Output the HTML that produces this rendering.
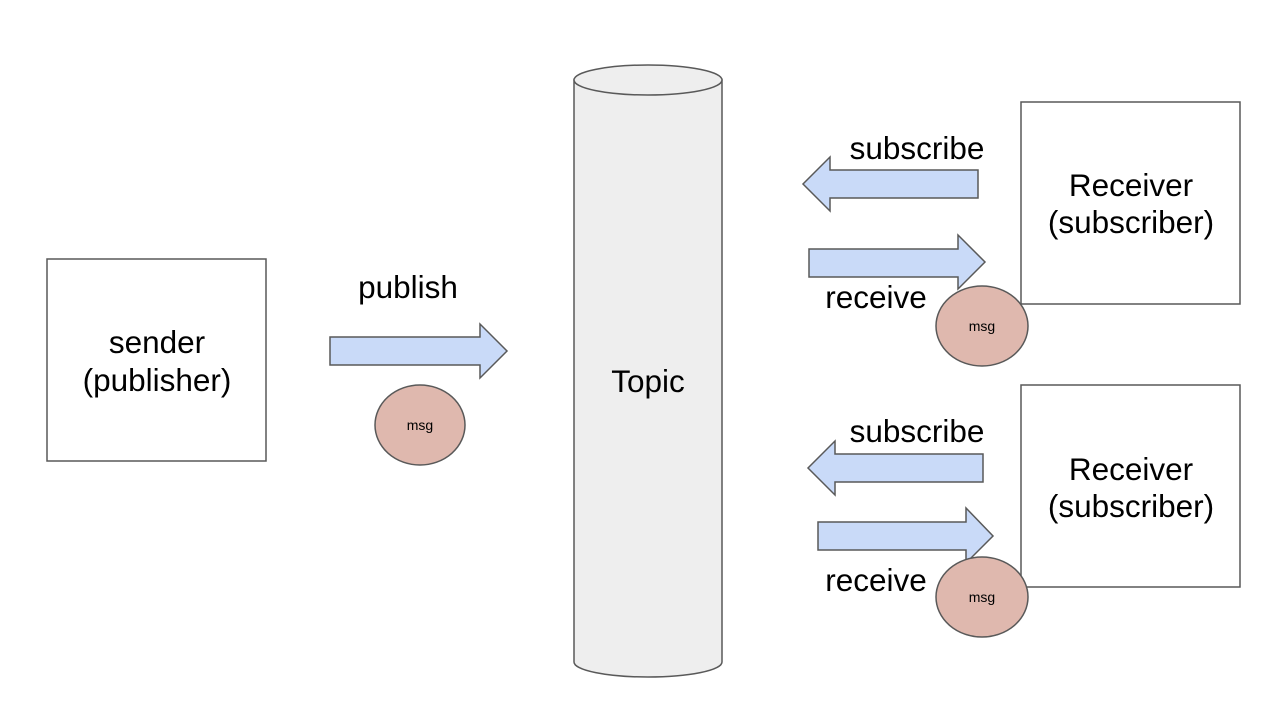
<!DOCTYPE html>
<html><head><style>html,body{margin:0;padding:0;background:#fff}svg{display:block}text{font-family:"Liberation Sans",Arial,sans-serif;fill:#000}</style></head>
<body>
<svg width="1280" height="717" viewBox="0 0 1280 717" xmlns="http://www.w3.org/2000/svg">
<g stroke="#595959" stroke-width="1.5">
<rect x="47" y="259" width="219" height="202" fill="#fff"/>
<rect x="1021" y="102" width="219" height="202" fill="#fff"/>
<rect x="1021" y="385" width="219" height="202" fill="#fff"/>
<path d="M574,80 L574,662 A74,15 0 0 0 722,662 L722,80 Z" fill="#eeeeee"/>
<ellipse cx="648" cy="80" rx="74" ry="15" fill="#eeeeee"/>
<g fill="#c9daf8">
<path d="M330,337 H480 V324 L507,351 L480,378 V365 H330 Z"/>
<path d="M978,170 H830 V157 L803,184 L830,211 V198 H978 Z"/>
<path d="M809,249 H958 V235 L985,262 L958,289 V277 H809 Z"/>
<path d="M983,454 H835 V441 L808,468 L835,495 V482 H983 Z"/>
<path d="M818,522 H966 V508 L993,536 L966,563 V550 H818 Z"/>
</g>
<g fill="#dfb8ae">
<ellipse cx="420" cy="425" rx="45" ry="40"/>
<ellipse cx="982" cy="326" rx="46" ry="40"/>
<ellipse cx="982" cy="597" rx="46" ry="40"/>
</g>
</g>
<g font-size="31.5" text-anchor="middle">
<text x="157" y="353">sender</text>
<text x="157" y="391">(publisher)</text>
<text x="408" y="298">publish</text>
<text x="648" y="392">Topic</text>
<text x="917" y="159">subscribe</text>
<text x="876" y="308">receive</text>
<text x="917" y="442">subscribe</text>
<text x="876" y="591">receive</text>
<text x="1131" y="196">Receiver</text>
<text x="1131" y="233">(subscriber)</text>
<text x="1131" y="480">Receiver</text>
<text x="1131" y="517">(subscriber)</text>
</g>
<g font-size="14" text-anchor="middle">
<text x="420" y="430">msg</text>
<text x="982" y="331">msg</text>
<text x="982" y="602">msg</text>
</g>
</svg>
</body></html>
